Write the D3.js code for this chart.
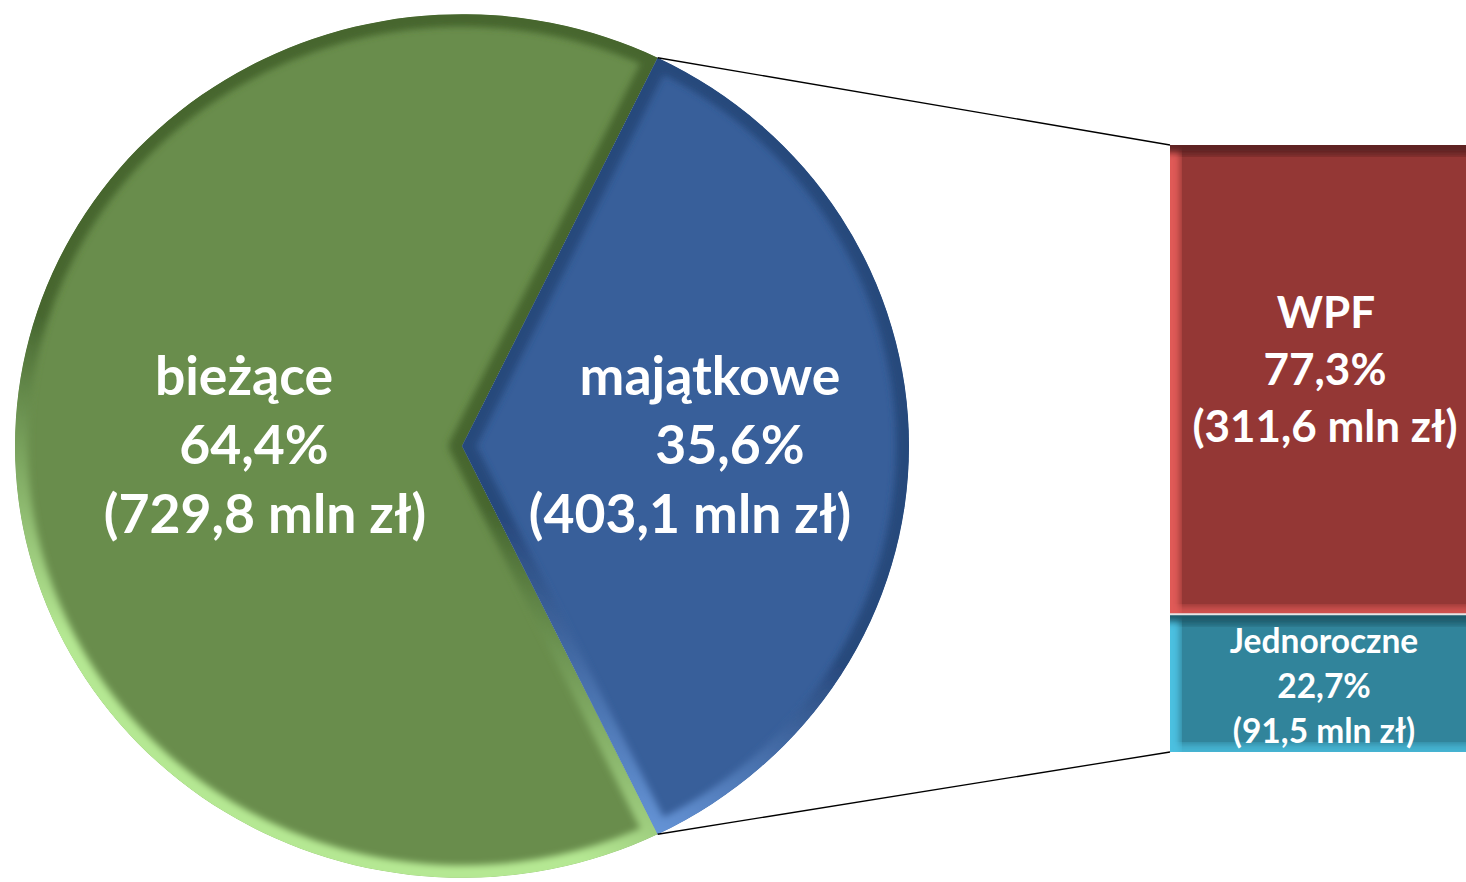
<!DOCTYPE html>
<html>
<head>
<meta charset="utf-8">
<script src="https://cdn.jsdelivr.net/npm/d3@7"></script>
<style>
  body { margin: 0; background: #fff; }
  svg text { font-family: Lato, "Open Sans", sans-serif; font-weight: 700; fill: #fff; }
</style>
</head>
<body>
<div id="viewport"></div>
<script>
// dane
var pieLabels = ["bieżące", "majątkowe"];
var pieValues = [729.8, 403.1];
var pieColors = ["#698d4c", "#385f9a"];
var pieRimDark = ["#46662f", "#27487c"];
var pieRimLight = ["#b5e893", "#74a6ec"];

var barLabels = ["WPF", "Jednoroczne"];
var barValues = [311.6, 91.5];
var barColors = ["#943735", "#31849b"];
var barRimDark = ["#5e2120", "#1f5a6b"];
var barRimLight = ["#e05a56", "#4cc0e0"];

var width = 1466, height = 882;
var pl = d3.formatLocale({ decimal: ",", thousands: " ", grouping: [3], currency: ["", " zł"] });
var fmtPct = pl.format(".1%");
var fmtVal = pl.format(".1f");

document.addEventListener("DOMContentLoaded", function () {
  d3Setup();
});

function d3Setup() {
  const svg = d3.select("#viewport").append("svg")
    .attr("width", width)
    .attr("height", height);

  const defs = svg.append("defs");
  defs.append("filter").attr("id", "blur")
    .append("feGaussianBlur").attr("stdDeviation", 3.5);

  // pie (lekko spłaszczony jak w oryginale)
  const cx = 462, cy = 446, r = 447, sy = 0.966;
  const total = d3.sum(pieValues);
  const f = pieValues[1] / total;
  const start = Math.PI / 2 + Math.PI * f;

  const pie = d3.pie().sort(null).startAngle(start).endAngle(start + 2 * Math.PI);
  const arcs = pie(pieValues);
  const arc = d3.arc().innerRadius(0).outerRadius(r);

  const gPie = svg.append("g")
    .attr("transform", `translate(${cx},${cy}) scale(1,${sy})`);

  arcs.forEach(function (d, i) {
    const grad = defs.append("linearGradient").attr("id", "pg" + i)
      .attr("gradientUnits", "userSpaceOnUse")
      .attr("x1", 200).attr("y1", -r).attr("x2", -200).attr("y2", r);
    grad.append("stop").attr("offset", "0%").attr("stop-color", pieRimDark[i]);
    grad.append("stop").attr("offset", "55%").attr("stop-color", pieRimDark[i]);
    grad.append("stop").attr("offset", "85%").attr("stop-color", pieRimLight[i]);
    grad.append("stop").attr("offset", "100%").attr("stop-color", pieRimLight[i]);

    defs.append("clipPath").attr("id", "pc" + i)
      .append("path").attr("d", arc(d));

    const g = gPie.append("g").attr("clip-path", `url(#pc${i})`);
    g.append("path").attr("d", arc(d)).attr("fill", pieColors[i]);
    g.append("path").attr("d", arc(d))
      .attr("fill", "none")
      .attr("stroke", `url(#pg${i})`)
      .attr("stroke-width", 26)
      .attr("stroke-linejoin", "round")
      .attr("filter", "url(#blur)");
  });

  // punkty krawędzi wycinka majątkowe
  function pt(a) {
    return [cx + r * Math.sin(a), cy - r * Math.cos(a) * sy];
  }
  const pTop = pt(arcs[1].startAngle);
  const pBot = pt(arcs[1].endAngle);

  // słupek
  const barX = 1170, barW = 300;
  const y = d3.scaleLinear().domain([0, d3.sum(barValues)]).range([752, 145]);
  const stack = [
    { i: 1, y0: 0, y1: barValues[1] },
    { i: 0, y0: barValues[1], y1: barValues[1] + barValues[0] },
  ];

  stack.forEach(function (s) {
    const i = s.i;
    const yTop = y(s.y1), yBot = y(s.y0);

    defs.append("clipPath").attr("id", "bc" + i)
      .append("rect").attr("x", barX).attr("y", yTop).attr("width", barW).attr("height", yBot - yTop);

    const g = svg.append("g").attr("clip-path", `url(#bc${i})`);
    g.append("rect")
      .attr("x", barX).attr("y", yTop).attr("width", barW).attr("height", yBot - yTop)
      .attr("fill", barColors[i]);
    // górna ciemna krawędź
    g.append("rect")
      .attr("x", barX - 10).attr("y", yTop - 10).attr("width", barW + 20).attr("height", 20)
      .attr("fill", barRimDark[i]).attr("filter", "url(#blur)");
    // dolna jasna krawędź
    g.append("rect")
      .attr("x", barX - 10).attr("y", yBot - 8).attr("width", barW + 20).attr("height", 16)
      .attr("fill", barRimLight[i]).attr("opacity", 0.8).attr("filter", "url(#blur)");
    // lewa jasna krawędź
    g.append("rect")
      .attr("x", barX - 10).attr("y", yTop + 8).attr("width", 20).attr("height", yBot - yTop)
      .attr("fill", barRimLight[i]).attr("filter", "url(#blur)");
  });

  svg.append("line")
    .attr("x1", barX).attr("x2", width)
    .attr("y1", y(barValues[1])).attr("y2", y(barValues[1]))
    .attr("stroke", "#e6e6e6").attr("stroke-width", 2);

  // linie łączące
  svg.append("line")
    .attr("x1", pTop[0]).attr("y1", pTop[1]).attr("x2", barX).attr("y2", y(d3.sum(barValues)))
    .attr("stroke", "#000").attr("stroke-width", 1.3);
  svg.append("line")
    .attr("x1", pBot[0]).attr("y1", pBot[1]).attr("x2", barX).attr("y2", y(0))
    .attr("stroke", "#000").attr("stroke-width", 1.3);

  // etykiety
  const pieLab = [
    { lines: [pieLabels[0], fmtPct(pieValues[0] / total), "(" + fmtVal(pieValues[0]) + " mln zł)"], x: [244, 254, 265], y: 395, size: 53.5, lh: 69 },
    { lines: [pieLabels[1], fmtPct(pieValues[1] / total), "(" + fmtVal(pieValues[1]) + " mln zł)"], x: [710, 730, 690], y: 395, size: 53.5, lh: 69 },
  ];
  const btot = d3.sum(barValues);
  const barLab = [
    { lines: [barLabels[0], fmtPct(barValues[0] / btot), "(" + fmtVal(barValues[0]) + " mln zł)"], x: [1326, 1325, 1325], y: 328, size: 44, lh: 57 },
    { lines: [barLabels[1], fmtPct(barValues[1] / btot), "(" + fmtVal(barValues[1]) + " mln zł)"], x: [1324, 1324, 1324], y: 653, size: 33.5, lh: 45 },
  ];

  pieLab.concat(barLab).forEach(function (L) {
    svg.append("g").selectAll("text")
      .data(L.lines)
      .join("text")
      .attr("x", (d, j) => L.x[j])
      .attr("y", (d, j) => L.y + j * L.lh)
      .attr("text-anchor", "middle")
      .attr("font-size", L.size)
      .text((d) => d);
  });
}
</script>
</body>
</html>
